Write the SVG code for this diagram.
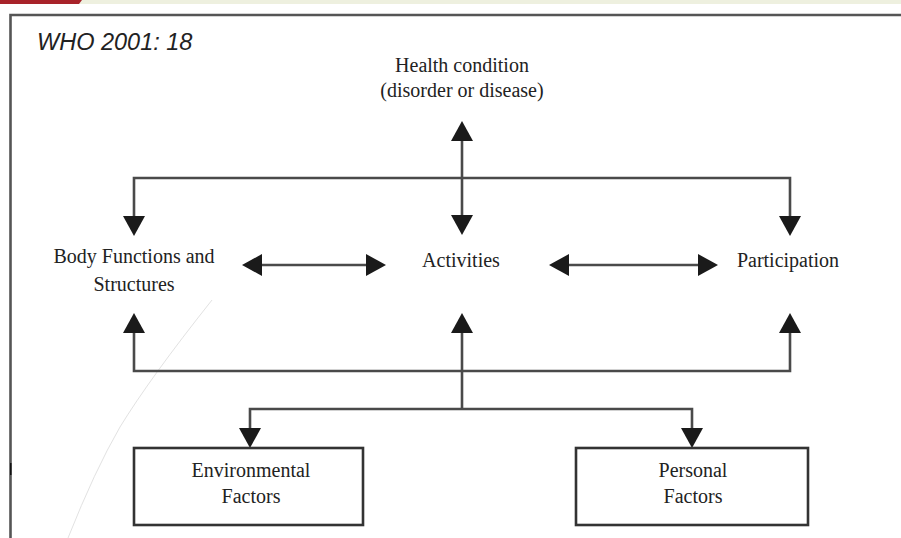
<svg xmlns="http://www.w3.org/2000/svg" width="901" height="538" viewBox="0 0 901 538">
<style>
.lbl{font-family:"Liberation Serif","Times New Roman",serif;font-size:20px;fill:#222;text-anchor:middle}
.cn{fill:none;stroke:#4a4a4a;stroke-width:2.6}
.box{fill:#fff;stroke:#333;stroke-width:2.6}
</style>
<defs>
<marker id="ah" viewBox="0 0 20 22" markerWidth="20" markerHeight="22" refX="0" refY="11" orient="auto-start-reverse" markerUnits="userSpaceOnUse">
<path d="M0,0 L20,11 L0,22 Z" fill="#1a1a1a"/>
</marker>
</defs>
<rect x="0" y="0" width="901" height="538" fill="#fff"/>
<rect x="0" y="0" width="901" height="4" fill="#eef0df"/>
<path d="M0,0 L82,0 L79,4 L0,4 Z" fill="#a8232a"/>
<path d="M10.5,538 L10.5,15 L901,15" fill="none" stroke="#555" stroke-width="2.6"/>
<rect x="10" y="463" width="1.5" height="12" fill="#111"/>
<path d="M212,300 Q150,378 120,427 Q95,470 68,538" fill="none" stroke="#e2e2e2" stroke-width="1"/>
<text x="37" y="50" font-family="'Liberation Sans',Arial,sans-serif" font-style="italic" font-size="23.5" fill="#222">WHO 2001: 18</text>
<g id="connectors">
<path class="cn" d="M462,141 L462,215" marker-start="url(#ah)" marker-end="url(#ah)"/>
<path class="cn" d="M134,216 L134,178 L790,178 L790,216" marker-start="url(#ah)" marker-end="url(#ah)"/>
<path class="cn" d="M262,265 L366,265" marker-start="url(#ah)" marker-end="url(#ah)"/>
<path class="cn" d="M569,265 L698,265" marker-start="url(#ah)" marker-end="url(#ah)"/>
<path class="cn" d="M134,333 L134,371 L790,371 L790,333" marker-start="url(#ah)" marker-end="url(#ah)"/>
<path class="cn" d="M462,333 L462,409" marker-start="url(#ah)"/>
<path class="cn" d="M250,428 L250,409 L692,409 L692,428" marker-start="url(#ah)" marker-end="url(#ah)"/>
</g>
<g id="health">
<text class="lbl" x="462" y="72">Health condition</text>
<text class="lbl" x="462" y="97">(disorder or disease)</text>
</g>
<g id="body">
<text class="lbl" x="134" y="263">Body Functions  and</text>
<text class="lbl" x="134" y="291">Structures</text>
</g>
<g id="activities">
<text class="lbl" x="461" y="267">Activities</text>
</g>
<g id="participation">
<text class="lbl" x="788" y="267">Participation</text>
</g>
<g id="environmental">
<rect class="box" x="134" y="448" width="229" height="77"/>
<text class="lbl" x="251" y="477">Environmental</text>
<text class="lbl" x="251" y="503">Factors</text>
</g>
<g id="personal">
<rect class="box" x="576" y="448" width="232" height="77"/>
<text class="lbl" x="693" y="477">Personal</text>
<text class="lbl" x="693" y="503">Factors</text>
</g>
</svg>
